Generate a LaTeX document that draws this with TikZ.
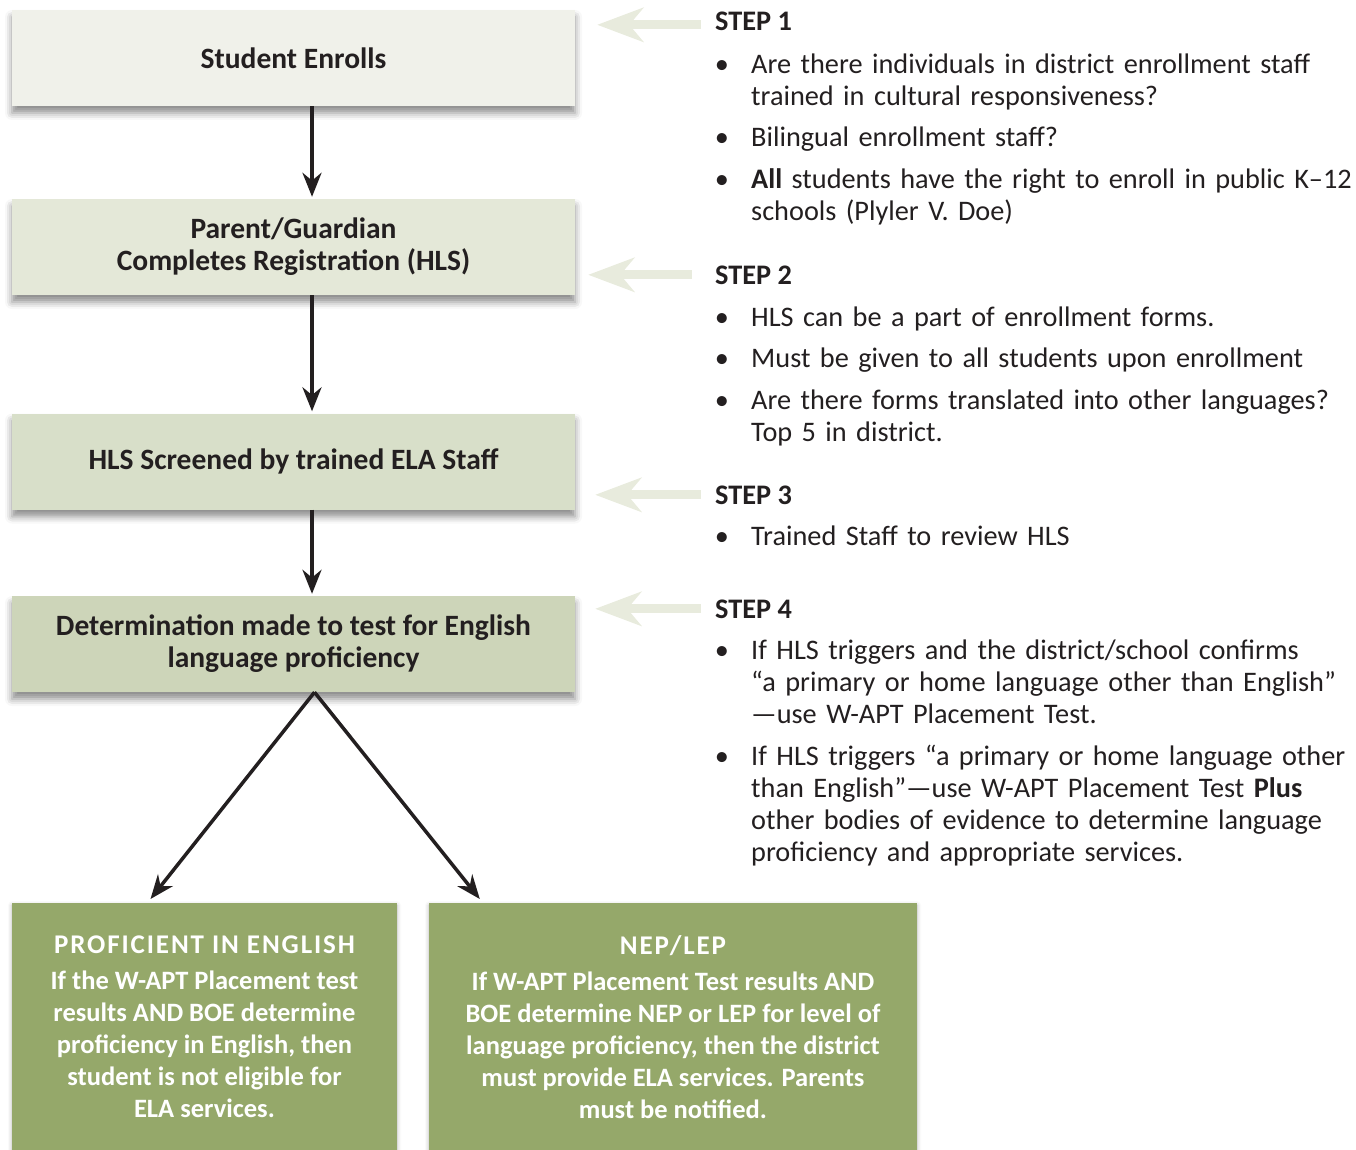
\documentclass[tikz,border=0pt]{standalone}
\usepackage{fontspec}
\setmainfont{Carlito}
\usetikzlibrary{arrows.meta,positioning,shadows.blur}
\definecolor{inkdark}{HTML}{231F20}
\definecolor{boxA}{HTML}{F0F1EA}
\definecolor{boxB}{HTML}{E4E8D8}
\definecolor{boxC}{HTML}{D8DFC9}
\definecolor{boxD}{HTML}{CDD5B9}
\definecolor{boxE}{HTML}{95A86A}
\definecolor{paleptr}{HTML}{E8EBDD}
\newcommand{\boxsize}{\fontsize{29.5}{32}\selectfont}
\newcommand{\stepsize}{\fontsize{28.3}{32}\selectfont}
\newcommand{\resultsize}{\fontsize{26.5}{32}\selectfont}
\newcommand{\resulttitle}[1]{{\fontsize{27}{32}\selectfont\addfontfeatures{LetterSpace=7}#1}}
\tikzset
{
    flowbox/.style   = {rectangle, minimum width=563pt, minimum height=96pt, align=center, inner sep=0pt, text=inkdark, font=\boxsize\bfseries, blur shadow={shadow xshift=0pt, shadow yshift=-7pt, shadow blur radius=7pt, shadow opacity=45}},
    resultbox/.style = {rectangle, fill=boxE, minimum height=247pt, anchor=north, align=center, inner sep=0pt, text=white, font=\resultsize\bfseries, blur shadow={shadow xshift=0pt, shadow yshift=-2pt, shadow blur radius=4pt, shadow opacity=30}},
    stephead/.style  = {anchor=base west, inner sep=0pt, text=inkdark, font=\stepsize\bfseries},
    bulletdot/.style = {anchor=base, inner sep=0pt, text=inkdark, font=\stepsize},
    steptext/.style  = {anchor=base west, inner sep=0pt, text width=640pt, align=left, text=inkdark, font=\stepsize},
    flow/.style      = {draw=inkdark, line width=3.5pt, ->, >={Stealth[length=24pt, width=19pt]}},
    stepptr/.style   = {draw=paleptr, line width=9pt, ->, >={Stealth[length=46pt, width=34pt, inset=14pt]}}
}
\begin{document}
\begin{tikzpicture}[x=1pt, y=-1pt]
		\useasboundingbox (0,0) rectangle (1356,1150);
		\node (box1)	[flowbox, fill=boxA]	at (293.5,58)		{Student Enrolls};
		\node (box2)	[flowbox, fill=boxB]	at (293.5,247)		{Parent/Guardian\\Completes Registration (HLS)};
		\node (box3)	[flowbox, fill=boxC]	at (293.5,461.5)	{HLS Screened by trained ELA Staff};
		\node (box4)	[flowbox, fill=boxD]	at (293.5,644)		{Determination made to test for English\\language proficiency};
		\node (prof)	[resultbox, minimum width=385pt]	at (204.5,903)	{\resulttitle{PROFICIENT IN ENGLISH}\\[4pt] If the W-APT Placement test\\results AND BOE determine\\proficiency in English, then\\student is not eligible for\\ELA services.};
		\node (nep)		[resultbox, minimum width=488pt]	at (673,903)	{\resulttitle{NEP/LEP}\\[4pt] If W-APT Placement Test results AND\\BOE determine NEP or LEP for level of\\language proficiency, then the district\\must provide ELA services. Parents\\must be notified.};

		\node (s1)		[stephead]		at (715,31)		{STEP 1};
		\node (d11)		[bulletdot]		at (722,74)		{\textbullet};
		\node (t11)		[steptext]		at (751,74)		{Are there individuals in district enrollment staff\\trained in cultural responsiveness?};
		\node (d12)		[bulletdot]		at (722,147)	{\textbullet};
		\node (t12)		[steptext]		at (751,147)	{Bilingual enrollment staff?};
		\node (d13)		[bulletdot]		at (722,189)	{\textbullet};
		\node (t13)		[steptext]		at (751,189)	{\textbf{All} students have the right to enroll in public K–12\\schools (Plyler V. Doe)};

		\node (s2)		[stephead]		at (715,284)	{STEP 2};
		\node (d21)		[bulletdot]		at (722,326)	{\textbullet};
		\node (t21)		[steptext]		at (751,326)	{HLS can be a part of enrollment forms.};
		\node (d22)		[bulletdot]		at (722,367)	{\textbullet};
		\node (t22)		[steptext]		at (751,367)	{Must be given to all students upon enrollment};
		\node (d23)		[bulletdot]		at (722,409)	{\textbullet};
		\node (t23)		[steptext]		at (751,409)	{Are there forms translated into other languages?\\Top 5 in district.};

		\node (s3)		[stephead]		at (715,504)	{STEP 3};
		\node (d31)		[bulletdot]		at (722,545)	{\textbullet};
		\node (t31)		[steptext]		at (751,545)	{Trained Staff to review HLS};

		\node (s4)		[stephead]		at (715,618)	{STEP 4};
		\node (d41)		[bulletdot]		at (722,659)	{\textbullet};
		\node (t41)		[steptext]		at (751,659)	{If HLS triggers and the district/school confirms\\“a primary or home language other than English”\\—use W-APT Placement Test.};
		\node (d42)		[bulletdot]		at (722,765)	{\textbullet};
		\node (t42)		[steptext]		at (751,765)	{If HLS triggers “a primary or home language other\\than English”—use W-APT Placement Test \textbf{Plus}\\other bodies of evidence to determine language\\proficiency and appropriate services.};

		\draw[flow] ([xshift=18.5pt]box1.south) -- ([xshift=18.5pt, yshift=2pt]box2.north);
		\draw[flow] ([xshift=18.5pt]box2.south) -- ([xshift=18.5pt, yshift=2pt]box3.north);
		\draw[flow] ([xshift=18.5pt]box3.south) -- ([xshift=18.5pt, yshift=2pt]box4.north);
		\draw[flow] ([xshift=21pt]box4.south) -- ([xshift=-54pt, yshift=4pt]prof.north);
		\draw[flow] ([xshift=21pt]box4.south) -- ([xshift=51pt, yshift=4pt]nep.north west);

		\draw[stepptr] ([xshift=-14pt, yshift=-3pt]s1.west) -- ([xshift=22pt, yshift=-3pt]s1.west -| box1.east);
		\draw[stepptr] ([xshift=-23pt]s2.west) -- ([xshift=13pt]s2.west -| box2.east);
		\draw[stepptr] ([xshift=-14pt]s3.west) -- ([xshift=20pt]s3.west -| box3.east);
		\draw[stepptr] ([xshift=-14pt]s4.west) -- ([xshift=20pt]s4.west -| box4.east);
\end{tikzpicture}
\end{document}
